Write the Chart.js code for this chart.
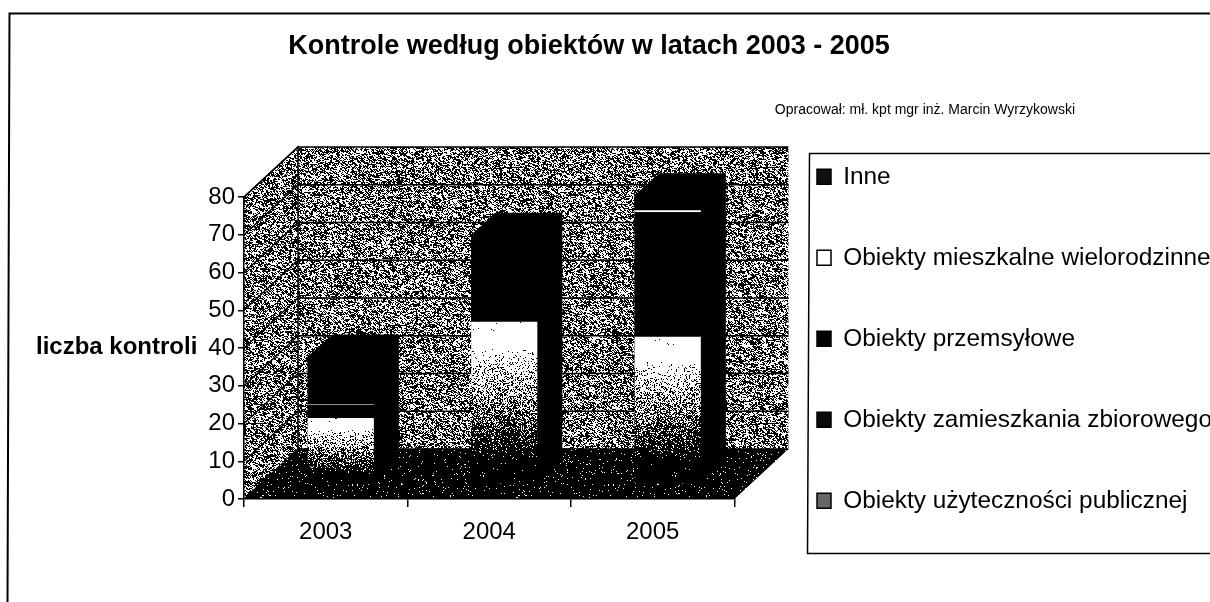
<!DOCTYPE html>
<html lang="pl">
<head>
<meta charset="utf-8">
<style>html,body{margin:0;padding:0;background:#fff}canvas{display:block}</style>
<script src="https://cdn.jsdelivr.net/npm/chart.js@4"></script>
</head>
<body>
<canvas id="c" width="1210" height="602"></canvas>
<script>
const years = ['2003', '2004', '2005'];
const publiczne = [17.5, 43, 39];
const zbiorowe = [2, 10, 20];
const przemyslowe = [1.5, 10, 13];
const mieszkalne = [0.2, 0, 0.5];
const inne = [12.6, 3, 4];
const titleText = 'Kontrole według obiektów w latach 2003 - 2005';
const subtitleText = 'Opracował: mł. kpt mgr inż. Marcin Wyrzykowski';
const yAxisTitle = 'liczba kontroli';
const FONT = '"Liberation Sans", Arial, sans-serif';

const WALL = {dx: 54, dy: -50};
const BAR_SHIFT = {dx: 15, dy: -15};
const BAR_DEPTH = {dx: 25, dy: -22};

function noise(x, y) {
  const v = Math.sin(x * 12.9898 + y * 78.233) * 43758.5453;
  return v - Math.floor(v);
}
function makeTexture(w, h, isWhite) {
  const cv = document.createElement('canvas');
  cv.width = w; cv.height = h;
  const c = cv.getContext('2d');
  const img = c.createImageData(w, h);
  for (let y = 0; y < h; y++) for (let x = 0; x < w; x++) {
    const g = isWhite(x, y) ? 255 : 0;
    const i = (x + y * w) * 4;
    img.data[i] = img.data[i + 1] = img.data[i + 2] = g;
    img.data[i + 3] = 255;
  }
  c.putImageData(img, 0, 0);
  return cv;
}
const wallTex = makeTexture(256, 256, (x, y) =>
  noise(x, y) * 0.65 + noise(x + 1, y + (x % 2)) * 0.35 > 0.52);
const floorTex = makeTexture(256, 256, (x, y) => noise(x, y) < 0.035);
const barPatterns = {};
function gradientFill(ctx) {
  if (ctx.type !== 'data' || !ctx.parsed) return '#555';
  const yS = ctx.chart.scales.y;
  const top = yS.getPixelForValue(ctx.parsed.y);
  const base = yS.getPixelForValue(0);
  const key = ctx.dataIndex + ':' + top;
  if (barPatterns[key]) return barPatterns[key];
  const span = (base - top) * 0.86;
  const cv = makeTexture(96, 602, (x, y) => {
    const t = (y - top) / span;
    if (t < 0.06) return noise(x, y) > 0.012;
    if (t >= 1) return noise(x, y) < 0.01;
    return noise(x, y) < Math.min(1, Math.pow(1 - t, 1.1) * 1.25);
  });
  barPatterns[key] = ctx.chart.ctx.createPattern(cv, 'repeat');
  return barPatterns[key];
}
const swatches = ['#111', '#fff', '#000', '#0a0a0a', '#666'];

const scene = {
  id: 'scene',
  afterLayout(chart) {
    const tb = chart.titleBlock;
    tb.left = 0; tb.right = 1178;
    const sub = chart.boxes.find(b => b.position === 'top' && b !== tb && b.options && b.options.text === subtitleText);
    if (sub) { sub.left = 0; sub.right = 1075; }
    const l = chart.legend;
    l.update(476, 602, {top: 0, left: 0, right: 0, bottom: 0});
    l.left = 760.4; l.right = 1400; l.top = 108; l.bottom = 800;
    l.width = 639; l.height = 692;
    l.adjustHitBoxes();
  },
  beforeDraw(chart) {
    const c = chart.ctx, a = chart.chartArea, y = chart.scales.y;
    c.save();
    c.strokeStyle = '#000'; c.lineWidth = 2;
    c.beginPath();
    c.moveTo(7.5, 602); c.lineTo(9.5, 13.5); c.lineTo(1210, 13.5);
    c.stroke();
    c.lineWidth = 1.5;
    c.beginPath();
    c.moveTo(1211, 153.5); c.lineTo(809.5, 153.5); c.lineTo(807.5, 553.5); c.lineTo(1211, 553.5);
    c.stroke();

    const L = a.left, R = a.right, T = a.top, B = a.bottom, dx = WALL.dx, dy = WALL.dy;
    const wall = c.createPattern(wallTex, 'repeat');
    const floor = c.createPattern(floorTex, 'repeat');
    const poly = (pts, fill) => {
      c.beginPath(); pts.forEach((p, i) => i ? c.lineTo(p[0], p[1]) : c.moveTo(p[0], p[1])); c.closePath();
      c.fillStyle = fill; c.fill();
    };
    poly([[L, T], [L + dx, T + dy], [L + dx, B + dy], [L, B]], wall);
    poly([[L + dx, T + dy], [R + dx, T + dy], [R + dx, B + dy], [L + dx, B + dy]], wall);
    c.strokeStyle = '#000'; c.lineWidth = 1.5;
    y.ticks.forEach(t => {
      const py = y.getPixelForValue(t.value);
      c.beginPath(); c.moveTo(L, py); c.lineTo(L + dx, py + dy); c.lineTo(R + dx, py + dy); c.stroke();
    });
    c.beginPath(); c.moveTo(L, T); c.lineTo(L + dx, T + dy); c.lineTo(L + dx, B + dy); c.stroke();
    poly([[L, B], [L + dx, B + dy], [R + dx, B + dy], [R, B]], floor);
    c.restore();
  },
  beforeDatasetsDraw(chart) {
    const c = chart.ctx;
    c.save();
    c.translate(BAR_SHIFT.dx, BAR_SHIFT.dy);
    c.fillStyle = '#000';
    const last = chart.data.datasets.length - 1;
    chart.getDatasetMeta(0).data.forEach((first, idx) => {
      const lo = first.getProps(['x', 'base', 'width'], true);
      const hi = chart.getDatasetMeta(last).data[idx].getProps(['y'], true);
      const rx = lo.x + lo.width / 2, lx = lo.x - lo.width / 2;
      const ddx = BAR_DEPTH.dx, ddy = BAR_DEPTH.dy;
      c.beginPath();
      c.moveTo(lx, lo.base); c.lineTo(rx, lo.base); c.lineTo(rx + ddx, lo.base + ddy);
      c.lineTo(rx + ddx, hi.y + ddy); c.lineTo(lx + ddx, hi.y + ddy); c.lineTo(lx, hi.y);
      c.closePath(); c.fill();
    });
  },
  afterDatasetsDraw(chart) { chart.ctx.restore(); },
  afterDraw(chart) {
    const c = chart.ctx;
    c.save();
    c.fillStyle = '#000';
    c.font = 'bold 24px ' + FONT;
    c.textAlign = 'left'; c.textBaseline = 'middle';
    c.fillText(yAxisTitle, 36, 347);
    c.restore();
  }
};

new Chart(document.getElementById('c'), {
  type: 'bar',
  plugins: [scene],
  data: {
    labels: years,
    datasets: [
      {label: 'Obiekty użyteczności publicznej', data: publiczne, backgroundColor: gradientFill},
      {label: 'Obiekty zamieszkania zbiorowego', data: zbiorowe, backgroundColor: '#000'},
      {label: 'Obiekty przemsyłowe', data: przemyslowe, backgroundColor: '#000'},
      {label: 'Obiekty mieszkalne wielorodzinne', data: mieszkalne, backgroundColor: '#fff'},
      {label: 'Inne', data: inne, backgroundColor: '#000'}
    ].map(d => Object.assign(d, {clip: false, borderWidth: 0, categoryPercentage: 1, barPercentage: 0.405}))
  },
  options: {
    responsive: false,
    animation: false,
    layout: {padding: {right: 14}},
    scales: {
      x: {
        stacked: true,
        afterFit(s) { s.height = 103; },
        grid: {drawOnChartArea: false, tickLength: 8, color: '#000', lineWidth: 1.5},
        border: {color: '#000', width: 1.5},
        ticks: {color: '#000', padding: 11, maxRotation: 0, font: {family: FONT, size: 24}}
      },
      y: {
        stacked: true, min: 0, max: 80,
        afterFit(s) { s.width = 244; },
        grid: {drawOnChartArea: false, tickLength: 6, color: '#000', lineWidth: 1.5},
        border: {color: '#000', width: 1.5},
        ticks: {color: '#000', stepSize: 10, padding: 3, font: {family: FONT, size: 24}}
      }
    },
    plugins: {
      tooltip: {enabled: false},
      title: {display: true, text: titleText, color: '#000',
        font: {family: FONT, size: 27, weight: 'bold'}, padding: {top: 30, bottom: 30}},
      subtitle: {display: true, text: subtitleText, color: '#000', align: 'end',
        font: {family: FONT, size: 14}, padding: {top: 9, bottom: 78.8}},
      legend: {
        position: 'right', align: 'start', reverse: true, maxWidth: 476,
        labels: {
          color: '#000', boxWidth: 14, boxHeight: 15, padding: 56.6,
          font: {family: FONT, size: 24.4},
          generateLabels(chart) {
            const items = Chart.defaults.plugins.legend.labels.generateLabels(chart);
            items.forEach(it => {
              it.fillStyle = swatches[4 - it.datasetIndex];
              it.strokeStyle = '#000'; it.lineWidth = 1.5;
            });
            return items;
          }
        }
      }
    }
  }
});
</script>
</body>
</html>
